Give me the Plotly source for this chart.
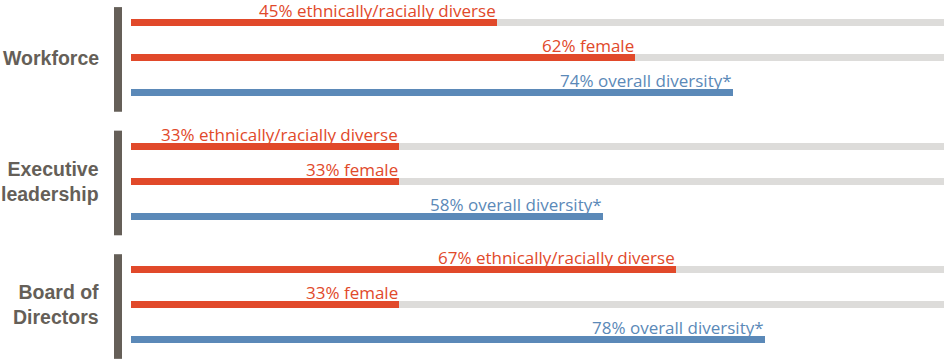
import plotly.graph_objects as go

groups = ["Workforce", "Executive<br>leadership", "Board of<br>Directors"]
metrics = ["ethnically/racially diverse", "female", "overall diversity*"]
workforce = [45, 62, 74]
executive = [33, 33, 58]
board = [67, 33, 78]
values = [workforce, executive, board]

RED = "#E1492A"
BLUE = "#5B89B8"
GRAY = "#DDDCDA"
DARK = "#655F58"
FONT = "Open Sans, Liberation Sans, Arial, sans-serif"
BFONT = "Liberation Sans, Arial, sans-serif"

GROUP_STEP = 3.53
W = 944
H = 361
L = 131

fig = go.Figure()
ann = []
shapes = []
for gi, (g, vals) in enumerate(zip(groups, values)):
    base = gi * GROUP_STEP
    for ri, (m, v) in enumerate(zip(metrics, vals)):
        y = base + ri
        color = BLUE if ri == 2 else RED
        if ri < 2:
            fig.add_trace(go.Bar(x=[100], y=[y], orientation="h", width=0.2,
                                 marker=dict(color=GRAY, line=dict(width=0)),
                                 hoverinfo="skip", showlegend=False))
        fig.add_trace(go.Bar(x=[v], y=[y], orientation="h", width=0.2,
                             marker=dict(color=color, line=dict(width=0)),
                             showlegend=False))
        ann.append(dict(x=v, y=y - 0.1, xref="x", yref="y", text=f"{v}% {m}",
                        showarrow=False, xanchor="right", yanchor="bottom",
                        xshift=0, yshift=-4, borderpad=0,
                        font=dict(family=FONT, size=17, color=color)))
    ann.append(dict(x=101 / W, y=base + 1, xref="paper", yref="y", text=f"<b>{g}</b>",
                    showarrow=False, xanchor="right", yanchor="middle", align="right",
                    font=dict(family=BFONT, size=19.5, color=DARK)))
    shapes.append(dict(type="rect", xref="paper", yref="y", x0=114 / W, x1=122 / W,
                       y0=base - 0.44, y1=base + 2.55, fillcolor=DARK, line=dict(width=0),
                       layer="below"))

y0 = -22.5 / 35
fig.update_layout(
    width=W, height=H, margin=dict(l=0, r=0, t=0, b=0),
    paper_bgcolor="white", plot_bgcolor="white",
    barmode="overlay", bargap=0,
    xaxis=dict(domain=[L / W, 1], range=[0, 100], visible=False, fixedrange=True),
    yaxis=dict(range=[y0 + H / 35, y0], visible=False, fixedrange=True),
    annotations=ann, shapes=shapes,
)
fig.write_html("out.html", config={"displayModeBar": False},
               post_script="document.body.style.margin='0';document.body.style.overflow='hidden';")
